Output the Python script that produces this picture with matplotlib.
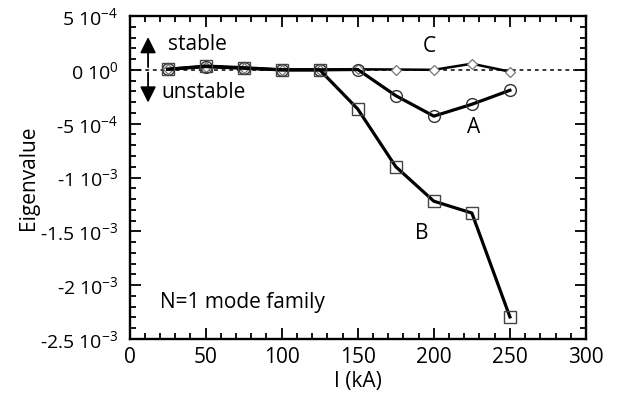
import matplotlib
matplotlib.use("Agg")
import matplotlib.pyplot as plt
from matplotlib.ticker import MultipleLocator, FixedLocator, FixedFormatter

plt.rcParams['font.family'] = ['Open Sans', 'DejaVu Sans']
plt.rcParams['mathtext.fontset'] = 'custom'
plt.rcParams['mathtext.rm'] = 'Open Sans'
plt.rcParams['mathtext.it'] = 'Open Sans'

current_A = [25, 50, 75, 100, 125, 150, 175, 200, 225, 250]
eig_A = [0.5e-5, 3e-5, 1.5e-5, 0.0, 0.0, 0.3e-5, -2.4e-4, -4.3e-4, -3.2e-4, -1.9e-4]
current_B = [25, 50, 75, 100, 125, 150, 175, 200, 225, 250]
eig_B = [0.5e-5, 3.5e-5, 2e-5, 0.0, 0.0, -3.64e-4, -9.0e-4, -1.22e-3, -1.33e-3, -2.295e-3]
current_C = [25, 50, 75, 100, 125, 150, 175, 200, 225, 250]
eig_C = [0.5e-5, 3e-5, 1.5e-5, 0.0, 0.0, 0.5e-5, 0.3e-5, 0.0, 5.7e-5, -1.7e-5]

ytick_vals = [5e-4, 0, -5e-4, -1e-3, -1.5e-3, -2e-3, -2.5e-3]
ytick_labels = [r'5 10$^{-4}$', r'0 10$^{0}$', r'-5 10$^{-4}$', r'-1 10$^{-3}$',
                r'-1.5 10$^{-3}$', r'-2 10$^{-3}$', r'-2.5 10$^{-3}$']

fig = plt.figure(figsize=(6.18, 4.01), dpi=100)
ax = fig.add_axes([129.5/618, 1 - 339/401, (586 - 129.5)/618, (339 - 16)/401])

ax.axhline(0, color='black', lw=1.1, ls=(0, (2.5, 2.5)), zorder=1)

ax.plot(current_C, eig_C, color='black', lw=1.8, marker='D', ms=5.5,
        mfc='white', mec='#777777', mew=0.9, zorder=3)
ax.plot(current_A, eig_A, color='black', lw=2.3, marker='o', ms=8.5,
        mfc='none', mec='#333333', mew=1.0, zorder=4)
ax.plot(current_B, eig_B, color='black', lw=2.3, marker='s', ms=8,
        mfc='none', mec='#444444', mew=1.0, zorder=5)

ax.annotate('', xy=(12.2, 3.3e-4), xytext=(12.2, 0),
            arrowprops=dict(arrowstyle='-|>', color='black', lw=1.3,
                            mutation_scale=24))
ax.annotate('', xy=(12.2, -3.3e-4), xytext=(12.2, 0),
            arrowprops=dict(arrowstyle='-|>', color='black', lw=1.3,
                            mutation_scale=24))

fs = 15
ax.text(25, 2.35e-4, 'stable', fontsize=fs, va='center', ha='left')
ax.text(21, -2.15e-4, 'unstable', fontsize=fs, va='center', ha='left')
ax.text(197, 2.2e-4, 'C', fontsize=fs, va='center', ha='center')
ax.text(226, -5.4e-4, 'A', fontsize=fs, va='center', ha='center')
ax.text(192, -1.52e-3, 'B', fontsize=fs, va='center', ha='center')
ax.text(20, -2.16e-3, 'N=1 mode family', fontsize=fs, va='center', ha='left')

ax.set_xlim(0, 300)
ax.set_ylim(-2.5e-3, 5e-4)
ax.xaxis.set_major_locator(MultipleLocator(50))
ax.xaxis.set_minor_locator(MultipleLocator(10))
ax.yaxis.set_major_locator(FixedLocator(ytick_vals))
ax.yaxis.set_major_formatter(FixedFormatter(ytick_labels))
ax.yaxis.set_minor_locator(MultipleLocator(1e-4))

ax.tick_params(which='both', direction='in', top=True, right=True, width=1.3)
ax.tick_params(which='major', length=8)
ax.tick_params(which='minor', length=4)
ax.tick_params(axis='x', pad=6, labelsize=fs)
ax.tick_params(axis='y', pad=8, labelsize=14)
for s in ax.spines.values():
    s.set_linewidth(1.7)

ax.set_xlabel('I (kA)', fontsize=fs, labelpad=2)
ax.set_ylabel('Eigenvalue', fontsize=fs, labelpad=1)

fig.savefig('out.png', dpi=100)
